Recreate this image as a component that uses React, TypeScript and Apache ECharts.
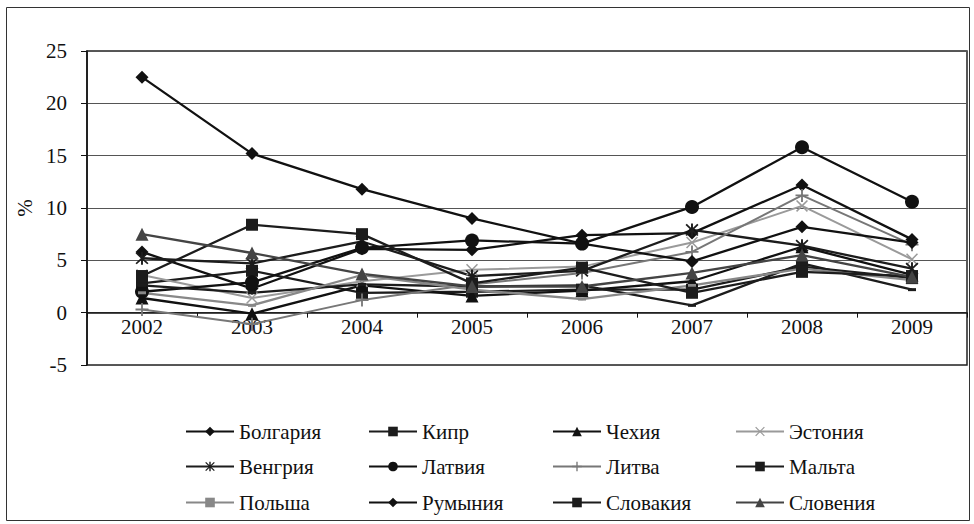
import React, { useEffect, useRef } from "react";
import * as echarts from "echarts";

const years = ["2002", "2003", "2004", "2005", "2006", "2007", "2008", "2009"];
const yTicks = { min: -5, max: 25, interval: 5 };

const bulgaria = [5.8, 2.3, 6.1, 6.0, 7.4, 7.6, 12.2, 7.0];
const cyprus = [2.8, 4.0, 1.9, 2.0, 2.2, 2.2, 4.4, 3.3];
const czech = [1.4, -0.1, 2.6, 1.6, 2.1, 3.0, 6.3, 3.6];
const estonia = [3.6, 1.4, 3.0, 4.1, 4.4, 6.7, 10.2, 5.1];
const hungary = [5.2, 4.7, 6.8, 3.5, 4.0, 7.9, 6.4, 4.2];
const latvia = [2.0, 2.9, 6.2, 6.9, 6.6, 10.1, 15.8, 10.6];
const lithuania = [0.3, -1.1, 1.2, 2.7, 3.8, 5.8, 11.2, 6.5];
const malta = [2.6, 1.9, 2.7, 2.5, 2.6, 0.7, 4.7, 2.2];
const poland = [1.9, 0.7, 3.6, 2.2, 1.3, 2.6, 4.2, 3.1];
const romania = [22.5, 15.2, 11.8, 9.0, 6.6, 4.9, 8.2, 6.7];
const slovakia = [3.5, 8.4, 7.5, 2.8, 4.3, 1.9, 3.9, 3.5];
const slovenia = [7.5, 5.7, 3.7, 2.5, 2.5, 3.8, 5.5, 3.4];

const names = [
  "Болгария", "Кипр", "Чехия", "Эстония",
  "Венгрия", "Латвия", "Литва", "Мальта",
  "Польша", "Румыния", "Словакия", "Словения",
];
const values = [
  bulgaria, cyprus, czech, estonia,
  hungary, latvia, lithuania, malta,
  poland, romania, slovakia, slovenia,
];

const PLUS = "path://M4.3 0h1.4v10h-1.4z M0 4.3h10v1.4h-10z";
const CROSS = "path://M0.9 0 L5 4.1 L9.1 0 L10 0.9 L5.9 5 L10 9.1 L9.1 10 L5 5.9 L0.9 10 L0 9.1 L4.1 5 L0 0.9 Z";
const STAR = "path://M4.3 0h1.4v10h-1.4z M1.2 0.3 L5 4.1 L8.8 0.3 L9.7 1.2 L5.9 5 L9.7 8.8 L8.8 9.7 L5 5.9 L1.2 9.7 L0.3 8.8 L4.1 5 L0.3 1.2 Z";

const styles = [
  { color: "#111", symbol: "diamond", size: 13, width: 2.3 },
  { color: "#1c1c1c", symbol: "rect", size: 12, width: 2.3 },
  { color: "#111", symbol: "triangle", size: 13, width: 2.3 },
  { color: "#9a9a9a", symbol: CROSS, size: 12, width: 2 },
  { color: "#1c1c1c", symbol: STAR, size: 13, width: 2.3 },
  { color: "#111", symbol: "circle", size: 14, width: 2.3 },
  { color: "#777", symbol: PLUS, size: 13, width: 2 },
  { color: "#1c1c1c", symbol: "rect", size: [8, 3], width: 2.3 },
  { color: "#888", symbol: "rect", size: [8, 3], width: 2.3 },
  { color: "#111", symbol: "diamond", size: 13, width: 2.3 },
  { color: "#1c1c1c", symbol: "rect", size: 12, width: 2.3 },
  { color: "#444", symbol: "triangle", size: 13, width: 2.3 },
];

const legendCols = [185, 368, 552, 735];
const legendRows = [432, 467, 503];

export default function App() {
  const ref = useRef<HTMLDivElement>(null);
  useEffect(() => {
    document.body.style.margin = "0";
    const chart = echarts.init(ref.current!, undefined, { renderer: "svg" });
    const font = "Liberation Serif, Tinos, Times New Roman, DejaVu Serif, serif";
    const fs = 21;
    const series = names.map((n, i) => ({
      name: n,
      type: "line",
      data: values[i],
      symbol: styles[i].symbol,
      symbolSize: styles[i].size,
      showAllSymbol: true,
      lineStyle: { color: styles[i].color, width: styles[i].width },
      itemStyle: { color: styles[i].color },
      emphasis: { disabled: true },
    }));
    const legends = names.map((n, i) => ({
      data: [n],
      left: legendCols[i % 4],
      top: legendRows[Math.floor(i / 4)] - 11,
      padding: 0,
      itemWidth: 48,
      itemHeight: 12,
      itemGap: 0,
      textStyle: { fontFamily: font, fontSize: fs, color: "#111" },
      selectedMode: false,
    }));
    chart.setOption({
      animation: false,
      backgroundColor: "#fff",
      textStyle: { fontFamily: font },
      grid: { left: 87, top: 51, right: 7, bottom: 159, show: true, borderColor: "#222", borderWidth: 1.5 },
      xAxis: {
        type: "category",
        data: years,
        boundaryGap: true,
        offset: -52.33,
        axisLine: { onZero: false, lineStyle: { color: "#111", width: 1.5 } },
        axisTick: { show: true, length: 5, lineStyle: { color: "#111" } },
        axisLabel: { fontFamily: font, fontSize: fs, color: "#111", margin: 4 },
        splitLine: { show: false },
      },
      yAxis: {
        type: "value",
        min: yTicks.min,
        max: yTicks.max,
        interval: yTicks.interval,
        name: "%",
        nameLocation: "middle",
        nameGap: 52,
        nameRotate: 90,
        nameTextStyle: { fontFamily: font, fontSize: fs, color: "#111" },
        axisLine: { show: true, lineStyle: { color: "#111", width: 1.5 } },
        axisTick: { show: true, length: 6, lineStyle: { color: "#111" } },
        axisLabel: { fontFamily: font, fontSize: fs, color: "#111", margin: 20 },
        splitLine: { show: true, lineStyle: { color: "#555", width: 1.2 } },
      },
      legend: legends,
      series,
      graphic: [
        {
          type: "rect",
          shape: { x: 6.5, y: 7.5, width: 963, height: 513 },
          style: { fill: "none", stroke: "#333", lineWidth: 1 },
          silent: true,
        },
      ],
    });
    return () => chart.dispose();
  }, []);
  return <div ref={ref} style={{ width: 974, height: 524 }} />;
}
